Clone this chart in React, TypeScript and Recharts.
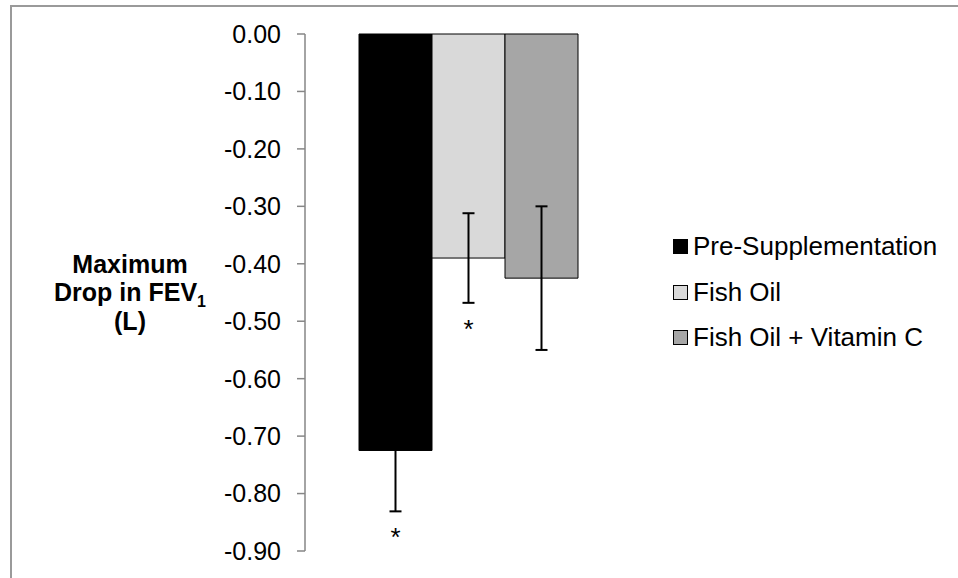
import { Bar, BarChart, ErrorBar, LabelList, Legend, XAxis, YAxis } from "recharts";

const FONT = '"Liberation Sans", Arial, Helvetica, sans-serif';
const AXIS_GRAY = "#868686";

// one category, three treatment conditions
const categories = ["Pre-Supplementation", "Fish Oil", "Fish Oil + Vitamin C"];
const seriesKeys = ["pre", "fish", "fishC"];
const means = [-0.725, -0.39, -0.425];
const errors = [0.106, 0.078, 0.125];
const significant = [true, true, false];
const fills = ["#000000", "#d9d9d9", "#a6a6a6"];
const yTicks = [0, -0.1, -0.2, -0.3, -0.4, -0.5, -0.6, -0.7, -0.8, -0.9];

const row: Record<string, string | number> = { name: "" };
seriesKeys.forEach((k, i) => {
    row[k] = means[i];
    row[k + "Err"] = errors[i];
});
const data = [row];

const fmt = (v: number) => (Math.abs(v) < 1e-9 ? 0 : v).toFixed(2);

// asterisk under the error bar of significant conditions
const starLabel = (i: number) => (props: any) => {
    if (!significant[i]) return null;
    const vb = props.viewBox || props;
    const x = Number(vb.x), y = Number(vb.y), w = Number(vb.width), h = Number(vb.height);
    const top = Math.min(y, y + h);
    const bottom = Math.max(y, y + h);
    const errPx = (errors[i] / Math.abs(means[i])) * (bottom - top);
    return (
        <text x={x + w / 2} y={bottom + errPx + 35} textAnchor="middle"
            fontSize={26} fontFamily={FONT} fill="#000">*</text>
    );
};

const YTitle = (props: any) => {
    const vb = props.viewBox;
    const cx = vb.x + 130;
    const cy = vb.y + vb.height / 2;
    return (
        <text textAnchor="middle" fontFamily={FONT} fontSize={25} fontWeight="bold" fill="#000">
            <tspan x={cx} y={cy - 20}>Maximum</tspan>
            <tspan x={cx} y={cy + 8}>Drop in FEV<tspan fontSize={16} dy={6}>1</tspan></tspan>
            <tspan x={cx} y={cy + 37}>(L)</tspan>
        </text>
    );
};

const LegendBox = () => (
    <div style={{ fontFamily: FONT, fontSize: 26, color: "#000" }}>
        {categories.map((c, i) => (
            <div key={c} style={{ display: "flex", alignItems: "center", height: 45.5, whiteSpace: "nowrap" }}>
                <span style={{
                    display: "inline-block", width: 13, height: 13, background: fills[i],
                    border: "1px solid #000", marginRight: 5
                }} />
                <span>{c}</span>
            </div>
        ))}
    </div>
);

export default function App() {
    return (
        <div style={{ position: "absolute", left: 0, top: 0, width: 958, height: 578, overflow: "hidden", background: "#fff" }}>
            <div style={{
                position: "absolute", left: 10, top: 5, width: 1200, height: 1200,
                borderLeft: "2px solid #9a9a9a", borderTop: "2px solid #9a9a9a"
            }} />
            <div style={{ position: "absolute", left: 0, top: 0 }}>
                <BarChart width={958} height={578} data={data}
                    margin={{ top: 34, right: 327, bottom: 27, left: 0 }}
                    barCategoryGap={54} barGap={0}>
                    <XAxis dataKey="name" hide />
                    <XAxis xAxisId="frame" type="number" domain={[0, 1]} ticks={[0, 1]}
                        orientation="top" mirror height={0} tick={false} tickSize={8}
                        axisLine={{ stroke: AXIS_GRAY, strokeWidth: 1.5 }}
                        tickLine={{ stroke: AXIS_GRAY, strokeWidth: 1.5 }} />
                    <YAxis type="number" domain={[-0.9, 0]} ticks={yTicks} width={305}
                        tickFormatter={fmt} tickSize={8} tickMargin={16} interval={0}
                        axisLine={{ stroke: AXIS_GRAY, strokeWidth: 1.5 }}
                        tickLine={{ stroke: AXIS_GRAY, strokeWidth: 1.5 }}
                        tick={{ fill: "#000", fontSize: 25, fontFamily: FONT }}
                        label={<YTitle />} />
                    <Legend layout="vertical" align="center" verticalAlign="middle"
                        wrapperStyle={{ left: 673, top: 224, width: 285 }}
                        content={<LegendBox />} />
                    {seriesKeys.map((k, i) => (
                        <Bar key={k} dataKey={k} name={categories[i]} fill={fills[i]}
                            stroke="#000" strokeWidth={1} isAnimationActive={false}>
                            <ErrorBar dataKey={k + "Err"} direction="y" width={6}
                                stroke="#000" strokeWidth={2} />
                            <LabelList dataKey={k} content={starLabel(i)} />
                        </Bar>
                    ))}
                </BarChart>
            </div>
        </div>
    );
}
